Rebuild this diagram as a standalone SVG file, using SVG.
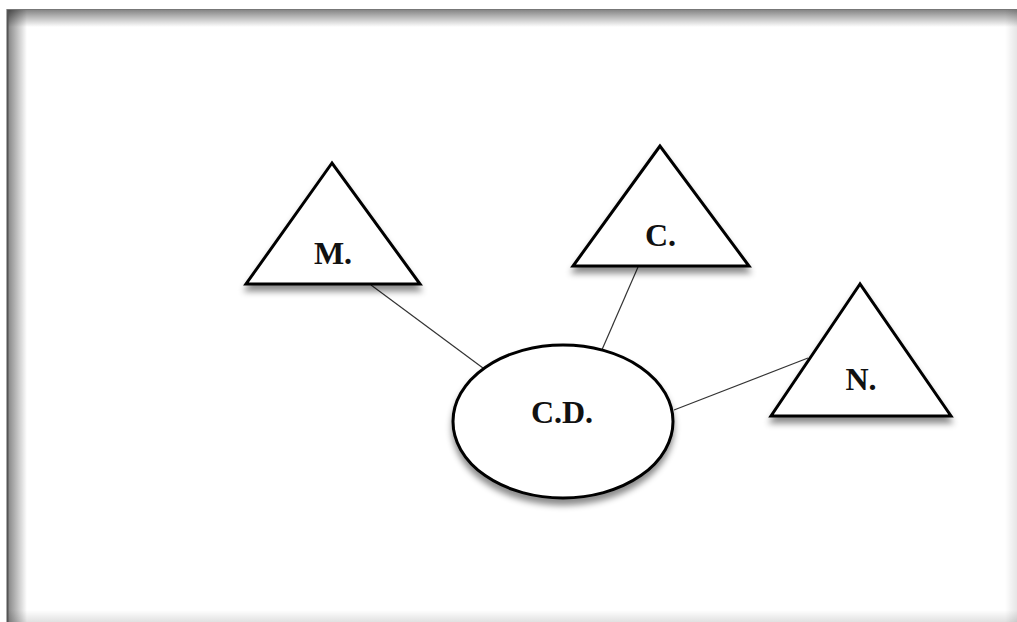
<svg xmlns="http://www.w3.org/2000/svg" width="1017" height="622" viewBox="0 0 1017 622">
  <defs>
    <style>
      .shape { fill: #ffffff; stroke: #000000; stroke-width: 3; stroke-linejoin: miter; }
      .link { stroke: #333333; stroke-width: 1.2; fill: none; }
      .label { font-family: "Liberation Serif", "Times New Roman", serif; font-weight: bold; font-size: 32px; fill: #111111; text-anchor: middle; }
    </style>
    <filter id="shadow" x="-20%" y="-20%" width="140%" height="150%">
      <feDropShadow dx="0" dy="6" stdDeviation="3" flood-color="#000000" flood-opacity="0.45"/>
    </filter>
    <linearGradient id="edgeLeft" x1="0" y1="0" x2="1" y2="0">
      <stop offset="0" stop-color="#000" stop-opacity="0.5"/>
      <stop offset="1" stop-color="#000" stop-opacity="0"/>
    </linearGradient>
    <linearGradient id="edgeTop" x1="0" y1="0" x2="0" y2="1">
      <stop offset="0" stop-color="#000" stop-opacity="0.5"/>
      <stop offset="1" stop-color="#000" stop-opacity="0"/>
    </linearGradient>
    <linearGradient id="edgeRight" x1="1" y1="0" x2="0" y2="0">
      <stop offset="0" stop-color="#000" stop-opacity="0.1"/>
      <stop offset="1" stop-color="#000" stop-opacity="0"/>
    </linearGradient>
    <linearGradient id="edgeBottom" x1="0" y1="1" x2="0" y2="0">
      <stop offset="0" stop-color="#000" stop-opacity="0.12"/>
      <stop offset="1" stop-color="#000" stop-opacity="0"/>
    </linearGradient>
  </defs>

  <!-- page background and frame -->
  <rect x="0" y="0" width="1017" height="622" fill="#ffffff"/>
  <g id="frame">
    <rect x="7" y="9" width="20" height="613" fill="url(#edgeLeft)"/>
    <rect x="7" y="9" width="1010" height="18" fill="url(#edgeTop)"/>
    <rect x="1005" y="9" width="12" height="613" fill="url(#edgeRight)"/>
    <rect x="7" y="610" width="1010" height="12" fill="url(#edgeBottom)"/>
    <line x1="7.5" y1="9" x2="7.5" y2="622" stroke="#555" stroke-width="2"/>
    <line x1="7" y1="9.5" x2="1017" y2="9.5" stroke="#777" stroke-width="1.2"/>
  </g>

  <!-- connectors -->
  <g id="connectors">
    <line class="link" x1="371" y1="285" x2="487" y2="371"/>
    <line class="link" x1="638" y1="267" x2="601" y2="352"/>
    <line class="link" x1="808" y1="358" x2="674" y2="410"/>
  </g>

  <g id="node-m">
    <polygon class="shape" filter="url(#shadow)" points="332,163 246,284 420,284"/>
    <text class="label" x="333" y="264">M.</text>
  </g>

  <g id="node-c">
    <polygon class="shape" filter="url(#shadow)" points="660,146 573,266 749,266"/>
    <text class="label" x="660.5" y="246">C.</text>
  </g>

  <g id="node-n">
    <polygon class="shape" filter="url(#shadow)" points="860,284 771,416 951,416"/>
    <text class="label" x="861" y="390">N.</text>
  </g>

  <g id="node-cd">
    <ellipse class="shape" filter="url(#shadow)" cx="563" cy="421.5" rx="110" ry="76.5"/>
    <text class="label" x="562" y="423">C.D.</text>
  </g>
</svg>
